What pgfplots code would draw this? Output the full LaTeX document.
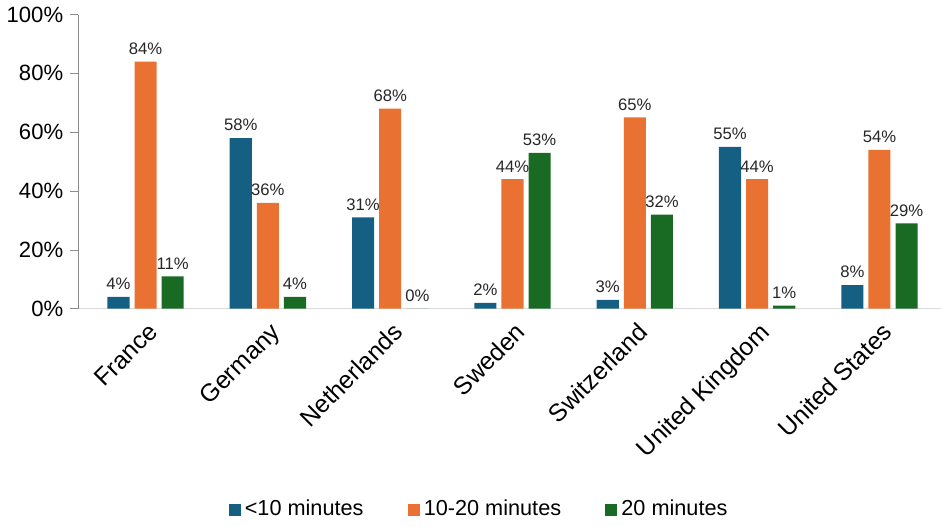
\documentclass[border=0pt]{standalone}
\usepackage{pgfplots}
\pgfplotsset{compat=1.18}
\usepackage{fontspec}
\setmainfont{Liberation Sans}
\definecolor{cA}{HTML}{156082}
\definecolor{cB}{HTML}{E97132}
\definecolor{cC}{HTML}{196B24}
\begin{document}
\begin{tikzpicture}
\begin{axis}[
  scale only axis,
  width=429.5pt, height=146.5pt,
  ybar, bar width=11pt,
  xmin=-0.55, xmax=6.5,
  ymin=0, ymax=100,
  axis x line*=bottom, axis y line*=left,
  x axis line style={draw=black!15, -},
  y axis line style={draw=black!45, -},
  xtick=data,
  xticklabels={France,Germany,Netherlands,Sweden,Switzerland,United Kingdom,United States},
  xticklabel style={rotate=45, anchor=north east, font=\fontsize{12.3}{14}\selectfont, inner sep=1pt, xshift=0pt, yshift=-1pt},
  x tick style={draw=none},
  ytick={0,20,40,60,80,100},
  yticklabel={\pgfmathprintnumber{\tick}\%},
  yticklabel style={font=\fontsize{11}{13}\selectfont},
  y tick style={draw=black!45},
  tick align=outside,
  major tick length=4pt,
  /pgf/number format/assume math mode=true,
  nodes near coords={\pgfmathprintnumber{\pgfplotspointmeta}\%},
  nodes near coords style={font=\fontsize{8.3}{10}\selectfont, text=black!85},
  every node near coord/.append style={yshift=0pt},
  legend columns=3,
  legend style={draw=none, at={(0.466,-0.683)}, anchor=center, font=\fontsize{10.8}{12}\selectfont,
    /tikz/every even column/.append style={column sep=20pt}},
  legend image code/.code={\fill[#1] (0pt,-3pt) rectangle (6pt,3pt);},
  enlarge x limits=false,
]
\addplot[fill=cA, draw=none, bar shift=-13.5pt] coordinates {(0,4) (1,58) (2,31) (3,2) (4,3) (5,55) (6,8)};
\addplot[fill=cB, draw=none, bar shift=0pt] coordinates {(0,84) (1,36) (2,68) (3,44) (4,65) (5,44) (6,54)};
\addplot[fill=cC, draw=none, bar shift=13.5pt] coordinates {(0,11) (1,4) (2,0) (3,53) (4,32) (5,1) (6,29)};
\legend{<10 minutes,10-20 minutes,20 minutes}
\end{axis}
\end{tikzpicture}
\end{document}
